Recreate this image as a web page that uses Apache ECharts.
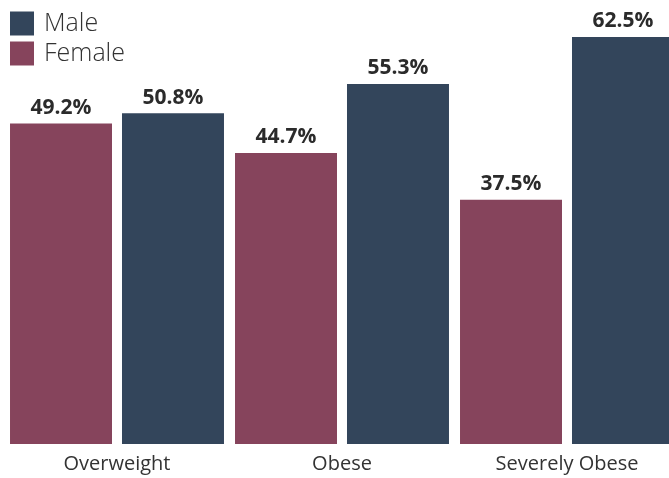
<!DOCTYPE html>
<html>
<head>
<meta charset="utf-8">
<script src="https://cdn.jsdelivr.net/npm/echarts@6/dist/echarts.min.js"></script>
<style>
  html, body { margin: 0; padding: 0; background: #ffffff; }
  #chart { width: 669px; height: 478px; }
</style>
</head>
<body>
<div id="chart"></div>
<script>
// Share of each weight category by sex (percent)
const categories = ['Overweight', 'Obese', 'Severely Obese'];
const femaleValues = [49.2, 44.7, 37.5];
const maleValues = [50.8, 55.3, 62.5];
const seriesNames = ['Male', 'Female'];

const MALE_COLOR = '#33455b';
const FEMALE_COLOR = '#86445c';
const FONT = '"Open Sans", "Noto Sans", sans-serif';

const chart = echarts.init(document.getElementById('chart'), null, { renderer: 'canvas' });

const valueLabel = {
  show: true,
  position: 'top',
  distance: 5,
  formatter: p => p.value.toFixed(1) + '%',
  fontFamily: FONT,
  fontWeight: 'bold',
  fontSize: 21,
  color: '#2b2b2b'
};

chart.setOption({
  animation: false,
  backgroundColor: '#ffffff',
  legend: {
    orient: 'vertical',
    left: 5,
    top: 6,
    itemWidth: 24,
    itemHeight: 24,
    itemGap: 5,
    icon: 'rect',
    data: seriesNames,
    textStyle: { fontFamily: FONT, fontSize: 25, fontWeight: 300, color: '#333333', padding: [0, 0, 0, 5] }
  },
  // the plot runs a little past the right edge, clipping the last bar
  grid: { left: 4.5, width: 675, top: 37, bottom: 34, containLabel: false, outerBoundsMode: 'none' },
  xAxis: {
    type: 'category',
    data: categories,
    axisLine: { show: false },
    axisTick: { show: false },
    axisLabel: { fontFamily: FONT, fontSize: 20, color: '#333333', margin: 10 }
  },
  yAxis: {
    type: 'value',
    min: 0,
    max: 62.5,
    show: false,
    splitLine: { show: false }
  },
  series: [
    {
      name: 'Female',
      type: 'bar',
      data: femaleValues,
      itemStyle: { color: FEMALE_COLOR },
      barGap: '9.8%',
      barCategoryGap: '4.9%',
      label: valueLabel
    },
    {
      name: 'Male',
      type: 'bar',
      data: maleValues,
      itemStyle: { color: MALE_COLOR },
      barGap: '9.8%',
      barCategoryGap: '4.9%',
      label: valueLabel
    }
  ]
});
</script>
</body>
</html>
